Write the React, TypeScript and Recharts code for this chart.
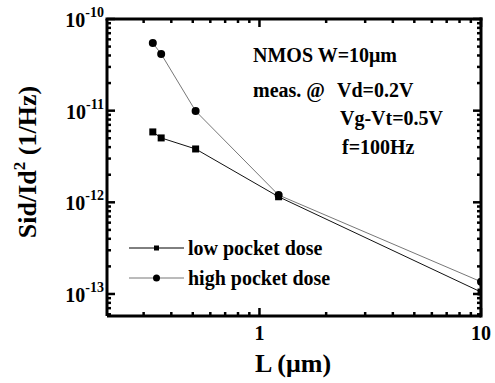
import React from "react";
import { LineChart, Line, XAxis, YAxis } from "recharts";

// channel length L (um) and drain current noise Sid/Id^2 (1/Hz)
const lengths = [0.33, 0.36, 0.515, 1.22, 10];
const lowDose = [5.86e-12, 5.04e-12, 3.82e-12, 1.15e-12, 1.05e-13];
const highDose = [5.47e-11, 4.15e-11, 9.9e-12, 1.2e-12, 1.36e-13];

const xTicks = [0.3, 0.4, 0.5, 0.6, 0.7, 0.8, 0.9, 1, 2, 3, 4, 5, 6, 7, 8, 9, 10];
const xMajor = [1, 10];
const xLabels = ["1", "10"];
const yTicks = [
  6e-14, 7e-14, 8e-14, 9e-14,
  1e-13, 2e-13, 3e-13, 4e-13, 5e-13, 6e-13, 7e-13, 8e-13, 9e-13,
  1e-12, 2e-12, 3e-12, 4e-12, 5e-12, 6e-12, 7e-12, 8e-12, 9e-12,
  1e-11, 2e-11, 3e-11, 4e-11, 5e-11, 6e-11, 7e-11, 8e-11, 9e-11,
  1e-10,
];
const yMajor = [1e-13, 1e-12, 1e-11, 1e-10];
const yExponents = ["-13", "-12", "-11", "-10"];

const xDomain = [0.205, 10];
const yDomain = [5.75e-14, 1e-10];

const data = lengths.map((L, i) => ({ L, low: lowDose[i], high: highDose[i] }));

const W = 495;
const H = 383;
const margin = { top: 19, right: 14, bottom: 0, left: 0 };
const yAxisW = 107;
const xAxisH = 67;
const plotLeft = margin.left + yAxisW;
const plotRight = W - margin.right;
const plotTop = margin.top;
const plotBottom = H - margin.bottom - xAxisH;

// same log mapping as the chart axes, used only to place the tick labels
const xPos = (v: number) =>
  plotLeft + ((Math.log10(v) - Math.log10(xDomain[0])) / (Math.log10(xDomain[1]) - Math.log10(xDomain[0]))) * (plotRight - plotLeft);
const yPos = (v: number) =>
  plotTop + ((Math.log10(yDomain[1]) - Math.log10(v)) / (Math.log10(yDomain[1]) - Math.log10(yDomain[0]))) * (plotBottom - plotTop);

const font = "'Liberation Serif', 'Times New Roman', serif";
const majorIdx = (list: number[], v: number) =>
  list.findIndex((m) => Math.abs(v / m - 1) < 1e-6);

// left ticks, mirrored on the right edge; top tick also draws the top frame
const LeftTick = (p: any) => {
  const v = p.payload.value;
  const len = majorIdx(yMajor, v) >= 0 ? 8 : 4;
  return (
    <g>
      <line x1={p.x} x2={p.x + len} y1={p.y} y2={p.y} stroke="#000" strokeWidth={2.5} />
      <line x1={plotRight} x2={plotRight - len} y1={p.y} y2={p.y} stroke="#000" strokeWidth={2.5} />
      {v === yDomain[1] && (
        <line x1={p.x} x2={plotRight} y1={p.y} y2={p.y} stroke="#000" strokeWidth={3} strokeLinecap="square" />
      )}
    </g>
  );
};

// bottom ticks, mirrored on the top edge; last tick also draws the right frame
const BottomTick = (p: any) => {
  const v = p.payload.value;
  const len = majorIdx(xMajor, v) >= 0 ? 8 : 4;
  return (
    <g>
      <line x1={p.x} x2={p.x} y1={p.y} y2={p.y - len} stroke="#000" strokeWidth={2.5} />
      <line x1={p.x} x2={p.x} y1={plotTop} y2={plotTop + len} stroke="#000" strokeWidth={2.5} />
      {v === xDomain[1] && (
        <line x1={p.x} x2={p.x} y1={p.y} y2={plotTop} stroke="#000" strokeWidth={3} strokeLinecap="square" />
      )}
    </g>
  );
};

const SquareDot = (p: any) => (
  <rect key={`sq-${p.index}`} x={p.cx - 3.5} y={p.cy - 3.5} width={7} height={7} fill="#000" />
);

export default function App() {
  return (
    <div style={{ position: "absolute", left: 0, top: 0, width: W, height: H, background: "#fff" }}>
      <LineChart width={W} height={H} data={data} margin={margin}>
        <XAxis dataKey="L" type="number" scale="log" domain={xDomain} allowDataOverflow ticks={xTicks} interval={0} height={xAxisH} tickSize={0} tickMargin={0} stroke="#000" axisLine={{ strokeWidth: 3 }} tick={BottomTick} />
        <YAxis type="number" scale="log" domain={yDomain} allowDataOverflow ticks={yTicks} interval={0} width={yAxisW} tickSize={0} tickMargin={0} stroke="#000" axisLine={{ strokeWidth: 3 }} tick={LeftTick} />
        <Line dataKey="high" stroke="#777" strokeWidth={1} dot={{ r: 4, fill: "#000", stroke: "none" }} isAnimationActive={false} />
        <Line dataKey="low" stroke="#111" strokeWidth={1} dot={SquareDot} isAnimationActive={false} />
      </LineChart>
      <svg
        width={W}
        height={H}
        style={{ position: "absolute", left: 0, top: 0, pointerEvents: "none" }}
        fontFamily={font}
        fontWeight="bold"
        fill="#000"
      >
        <g fontSize={20}>
          {yMajor.map((v, i) => (
            <text key={v} x={plotLeft - 3} y={yPos(v) + 8} textAnchor="end">
              <tspan>10</tspan>
              <tspan fontSize={14} dy={-10}>{yExponents[i]}</tspan>
            </text>
          ))}
          {xMajor.map((v, i) => (
            <text key={v} x={xPos(v)} y={plotBottom + 24} textAnchor="middle">
              {xLabels[i]}
            </text>
          ))}
        </g>
        <text transform="translate(36,162) rotate(-90)" textAnchor="middle" fontSize={26}>
          <tspan>Sid/Id</tspan>
          <tspan fontSize={17} dy={-11}>2</tspan>
          <tspan dy={11}> (1/Hz)</tspan>
        </text>
        <text x={293} y={372} textAnchor="middle" fontSize={26}>L (μm)</text>
        <g fontSize={20}>
          <text x={253} y={62}>NMOS W=10μm</text>
          <text x={253} y={97}>meas. @</text>
          <text x={337} y={97}>Vd=0.2V</text>
          <text x={340} y={125}>Vg-Vt=0.5V</text>
          <text x={342} y={154}>f=100Hz</text>
          <line x1={129} x2={184} y1={248} y2={248} stroke="#000" strokeWidth={1} />
          <rect x={154} y={245.5} width={5} height={5} />
          <text x={188} y={255}>low pocket dose</text>
          <line x1={129} x2={184} y1={278} y2={278} stroke="#777" strokeWidth={1} />
          <circle cx={156.5} cy={278} r={3.5} />
          <text x={188} y={285}>high pocket dose</text>
        </g>
      </svg>
    </div>
  );
}
